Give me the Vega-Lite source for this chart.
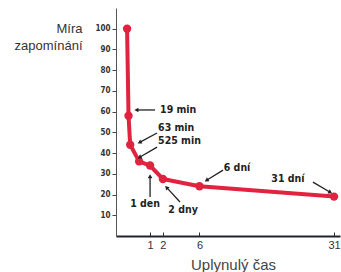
{
  "$schema": "https://vega.github.io/schema/vega-lite/v6.json",
  "width": 224,
  "height": 228,
  "autosize": {"type": "none"},
  "padding": {"left": 116, "top": 8, "right": 1, "bottom": 36},
  "background": "white",
  "config": {"view": {"stroke": null}},
  "datasets": {
    "curve": [
      {"x": 0, "y": 100},
      {"x": 0.0132, "y": 58},
      {"x": 0.0438, "y": 44},
      {"x": 0.3646, "y": 36},
      {"x": 1, "y": 34},
      {"x": 2, "y": 27.5},
      {"x": 6, "y": 24},
      {"x": 31, "y": 19}
    ],
    "arrows": [
      {"x": 1.36, "y": 60.8, "x2": 0.272, "y2": 60.8},
      {"x": 1.515, "y": 49.7, "x2": 0.41, "y2": 45.3},
      {"x": 1.515, "y": 42.9, "x2": 0.41, "y2": 38.1},
      {"x": 1, "y": 18.8, "x2": 1, "y2": 28.5},
      {"x": 3.68, "y": 16.4, "x2": 2.37, "y2": 23.2},
      {"x": 9.33, "y": 31.8, "x2": 7.01, "y2": 27.0},
      {"x": 26.2, "y": 26.0, "x2": 30.0, "y2": 21.2}
    ],
    "heads": [
      {"x": 0.272, "y": 60.8, "heading": 270},
      {"x": 0.41, "y": 45.3, "heading": 242},
      {"x": 0.41, "y": 38.1, "heading": 240},
      {"x": 1, "y": 28.5, "heading": 0},
      {"x": 2.37, "y": 23.2, "heading": 317},
      {"x": 7.01, "y": 27.0, "heading": 238},
      {"x": 30.0, "y": 21.2, "heading": 120}
    ],
    "notesLeft": [
      {"x": 1.76, "y": 60.8, "label": "19 min"},
      {"x": 1.595, "y": 52.3, "label": "63 min"},
      {"x": 1.595, "y": 45.6, "label": "525 min"}
    ],
    "notesCenter": [
      {"x": 0.682, "y": 15.2, "label": "1 den"},
      {"x": 4.02, "y": 12.5, "label": "2 dny"},
      {"x": 11.54, "y": 33.0, "label": "6 dní"},
      {"x": 20.9, "y": 27.7, "label": "31 dní"}
    ]
  },
  "encoding": {
    "x": {
      "field": "x",
      "type": "quantitative",
      "scale": {"type": "pow", "exponent": 0.64, "domain": [-0.32, 32.4], "nice": false, "zero": false},
      "axis": {
        "title": "Uplynulý čas",
        "values": [1, 2, 6, 31],
        "grid": false,
        "domainColor": "#222233",
        "domainWidth": 2,
        "tickColor": "#333",
        "tickSize": -4,
        "labelPadding": 7,
        "labelFont": "Liberation Sans",
        "labelFontSize": 11,
        "labelColor": "#333",
        "titleFont": "Liberation Sans",
        "titleFontSize": 15,
        "titleFontWeight": "normal",
        "titleColor": "#444",
        "titleX": 117,
        "titleY": 33,
        "titleBaseline": "alphabetic"
      }
    },
    "y": {
      "field": "y",
      "type": "quantitative",
      "scale": {"domain": [0, 110], "nice": false},
      "axis": {
        "title": ["Míra", "zapomínání"],
        "values": [10, 20, 30, 40, 50, 60, 70, 80, 90, 100],
        "grid": false,
        "domainColor": "#555",
        "domainWidth": 1,
        "tickColor": "#444",
        "tickSize": 4,
        "labelPadding": 2,
        "labelFont": "Liberation Sans Narrow, DejaVu Sans Condensed, sans-serif",
        "labelFontWeight": "bold",
        "labelFontSize": 8,
        "labelColor": "#333",
        "titleAngle": 0,
        "titleAlign": "right",
        "titleBaseline": "alphabetic",
        "titleX": -34,
        "titleY": 24,
        "titleLineHeight": 17,
        "titleFont": "Liberation Sans",
        "titleFontSize": 13,
        "titleFontWeight": "normal",
        "titleColor": "#333"
      }
    }
  },
  "layer": [
    {
      "data": {"name": "curve"},
      "mark": {"type": "line", "color": "#e0233f", "strokeWidth": 4, "strokeJoin": "round"}
    },
    {
      "data": {"name": "curve"},
      "mark": {"type": "point", "filled": true, "color": "#e0233f", "size": 70, "opacity": 1}
    },
    {
      "data": {"name": "arrows"},
      "mark": {"type": "rule", "color": "#222", "strokeWidth": 1.3},
      "encoding": {"x2": {"field": "x2"}, "y2": {"field": "y2"}}
    },
    {
      "data": {"name": "heads"},
      "mark": {"type": "point", "shape": "triangle", "filled": true, "color": "#222", "size": 22, "opacity": 1},
      "encoding": {"angle": {"field": "heading", "type": "quantitative", "scale": null}}
    },
    {
      "data": {"name": "notesLeft"},
      "mark": {"type": "text", "align": "left", "baseline": "middle", "font": "Liberation Sans Narrow, DejaVu Sans Condensed, sans-serif", "fontWeight": "bold", "fontSize": 10.5, "color": "#222"},
      "encoding": {"text": {"field": "label"}}
    },
    {
      "data": {"name": "notesCenter"},
      "mark": {"type": "text", "align": "center", "baseline": "middle", "font": "Liberation Sans Narrow, DejaVu Sans Condensed, sans-serif", "fontWeight": "bold", "fontSize": 10.5, "color": "#222"},
      "encoding": {"text": {"field": "label"}}
    }
  ]
}
